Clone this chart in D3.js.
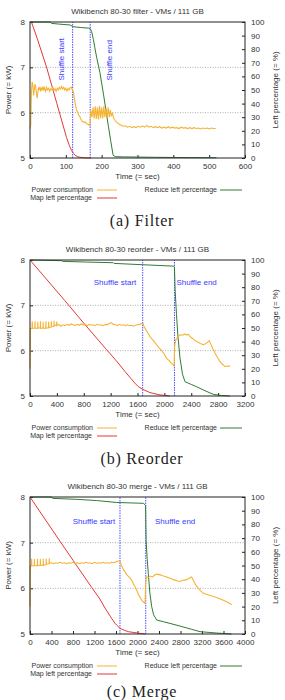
<!DOCTYPE html>
<html>
<head>
<meta charset="utf-8">
<script src="https://cdn.jsdelivr.net/npm/d3@7"></script>
<style>
  body { margin: 0; background: #fff; }
  svg text { font-family: "Liberation Sans", Arial, sans-serif; fill: #333; }
</style>
</head>
<body>
<div id="chart"></div>
<script>
// ---------------- data (time in sec, power in kW, left in %) ----------------
var filterPower = [[0,5.65],[2,5.72],[4,6.45],[6,6.68],[8,6.62],[10,6.38],[12,6.5],[14,6.63],[16,6.57],[18,6.42],[20,6.32],[22,6.46],[24,6.56],[26,6.5],[28,6.57],[30,6.47],[32,6.55],[34,6.49],[36,6.58],[38,6.51],[40,6.55],[43,6.47],[46,6.56],[49,6.5],[52,6.54],[55,6.47],[58,6.53],[61,6.5],[64,6.56],[67,6.49],[70,6.53],[73,6.47],[76,6.54],[79,6.5],[82,6.56],[85,6.52],[88,6.58],[91,6.52],[94,6.56],[97,6.5],[100,6.54],[103,6.48],[106,6.53],[109,6.5],[112,6.55],[115,6.56],[118,6.51],[121,6.45],[124,6.3],[127,6.16],[130,6.06],[133,6.01],[136,5.95],[139,5.91],[142,5.86],[145,5.82],[148,5.8],[151,5.78],[154,5.8],[157,5.76],[160,5.75],[163,5.74],[166,5.72],[168,5.8],[170,6.05],[173,5.9],[176,6.12],[179,5.87],[182,6.14],[185,5.86],[188,6.12],[191,5.85],[194,6.15],[197,5.88],[200,6.12],[203,5.87],[206,6.14],[209,5.9],[212,6.1],[215,5.88],[218,6.12],[221,5.9],[224,6.06],[227,5.92],[230,6.0],[233,5.88],[236,5.85],[240,5.8],[245,5.77],[250,5.74],[255,5.72],[260,5.7],[266,5.71],[272,5.68],[278,5.7],[284,5.67],[290,5.69],[296,5.67],[302,5.7],[308,5.68],[314,5.71],[320,5.68],[326,5.72],[332,5.68],[338,5.7],[344,5.67],[350,5.69],[356,5.67],[362,5.69],[368,5.66],[374,5.68],[380,5.66],[386,5.69],[392,5.66],[398,5.68],[404,5.66],[410,5.67],[416,5.65],[422,5.68],[428,5.66],[434,5.67],[440,5.65],[446,5.67],[452,5.65],[458,5.67],[464,5.65],[470,5.66],[476,5.64],[482,5.66],[488,5.65],[494,5.66],[500,5.64],[506,5.66],[512,5.65],[518,5.65]];
var filterMap = [[0,100],[4,100],[20,88],[46,67],[75,40],[102,15],[110,9],[116,5.5],[121,3.5],[126,2],[132,1],[140,0.5],[155,0.1],[170,0]];
var filterReduce = [[0,100],[56,100],[60,99],[79,98.5],[112,97.8],[121,96.5],[140,96],[163,95.5],[168,95.2],[172,93],[177,87],[181,81],[186,74],[195,63],[205,47],[212,35],[219,23],[225,13],[232,2],[238,1],[260,0.8],[300,0.7],[350,0.5],[400,0.4],[450,0.3],[520,0.2]];
var filterShuffle = [119, 168];

var reorderPower = [[0,5.6],[3,6.49],[30,6.49],[34,6.65],[36,6.49],[72,6.5],[75,6.65],[77,6.5],[113,6.49],[116,6.64],[118,6.5],[153,6.5],[156,6.65],[158,6.49],[193,6.5],[196,6.64],[198,6.5],[234,6.49],[237,6.65],[239,6.5],[275,6.5],[278,6.64],[280,6.51],[315,6.52],[318,6.65],[320,6.53],[355,6.54],[358,6.66],[360,6.55],[395,6.57],[398,6.64],[402,6.55],[430,6.58],[460,6.54],[490,6.57],[520,6.55],[550,6.58],[580,6.56],[610,6.59],[640,6.57],[670,6.55],[700,6.58],[730,6.56],[760,6.59],[790,6.57],[820,6.58],[850,6.55],[880,6.58],[910,6.56],[940,6.57],[970,6.55],[1000,6.58],[1030,6.56],[1060,6.57],[1090,6.55],[1120,6.58],[1150,6.57],[1180,6.6],[1210,6.62],[1240,6.58],[1270,6.57],[1300,6.55],[1330,6.58],[1360,6.56],[1390,6.57],[1420,6.55],[1450,6.57],[1480,6.55],[1510,6.56],[1540,6.54],[1570,6.56],[1600,6.57],[1630,6.58],[1660,6.6],[1680,6.6],[1700,6.52],[1730,6.45],[1760,6.38],[1786,6.31],[1820,6.25],[1850,6.2],[1885,6.13],[1920,6.06],[1960,6.0],[2000,5.92],[2034,5.83],[2070,5.78],[2100,5.73],[2133,5.68],[2145,5.66],[2153,6.1],[2170,6.24],[2200,6.3],[2232,6.35],[2270,6.34],[2300,6.37],[2330,6.35],[2356,6.36],[2390,6.3],[2420,6.27],[2450,6.23],[2480,6.2],[2510,6.18],[2545,6.15],[2579,6.13],[2610,6.15],[2640,6.18],[2668,6.22],[2690,6.15],[2720,6.05],[2753,5.95],[2790,5.85],[2827,5.76],[2865,5.7],[2902,5.65],[2940,5.66],[2976,5.66]];
var reorderMap = [[0,100],[521,70],[818,52.5],[1141,34],[1300,25],[1414,18],[1500,13],[1560,9.5],[1612,6.9],[1677,4.9],[1786,2.5],[1935,0.8],[2083,0]];
var reorderReduce = [[0,100],[471,99.5],[480,99],[843,98.5],[1240,98],[1250,97.5],[1686,96.5],[2133,95.5],[2150,95],[2160,78],[2180,60],[2200,45],[2232,28],[2270,16],[2307,10.5],[2400,8.5],[2480,6.8],[2604,3.9],[2728,1.2],[2850,0.4],[2976,0]];
var reorderShuffle = [1677, 2150];

var mergePower = [[0,5.6],[3,6.49],[28,6.49],[31,6.65],[33,6.49],[80,6.5],[83,6.64],[85,6.5],[135,6.49],[138,6.65],[140,6.5],[190,6.5],[193,6.64],[195,6.51],[245,6.5],[248,6.65],[250,6.51],[300,6.52],[303,6.65],[305,6.53],[355,6.54],[358,6.66],[362,6.55],[400,6.56],[440,6.54],[480,6.56],[520,6.55],[560,6.57],[600,6.55],[640,6.56],[680,6.54],[720,6.56],[760,6.55],[800,6.57],[840,6.55],[880,6.56],[920,6.54],[960,6.56],[1000,6.55],[1040,6.57],[1080,6.55],[1120,6.56],[1160,6.54],[1200,6.57],[1240,6.55],[1280,6.56],[1320,6.55],[1360,6.57],[1400,6.55],[1440,6.56],[1480,6.55],[1520,6.57],[1560,6.56],[1600,6.58],[1640,6.6],[1674,6.6],[1700,6.5],[1735,6.42],[1767,6.36],[1800,6.3],[1840,6.25],[1891,6.18],[1940,6.06],[1985,5.96],[2030,5.84],[2078,5.74],[2110,5.7],[2140,5.67],[2153,6.15],[2170,6.25],[2200,6.24],[2240,6.27],[2280,6.25],[2320,6.29],[2357,6.31],[2400,6.3],[2440,6.29],[2480,6.27],[2520,6.26],[2560,6.24],[2605,6.22],[2650,6.2],[2700,6.18],[2750,6.16],[2791,6.15],[2830,6.17],[2870,6.18],[2915,6.19],[2960,6.22],[3008,6.25],[3040,6.17],[3080,6.08],[3132,6.0],[3180,5.94],[3225,5.89],[3280,5.87],[3340,5.85],[3411,5.82],[3470,5.8],[3530,5.77],[3597,5.74],[3650,5.71],[3700,5.68],[3752,5.64]];
var mergeMap = [[0,100],[527,69.5],[806,53.5],[1147,34],[1300,25.5],[1395,19],[1500,12.5],[1581,7.8],[1674,4.1],[1750,2.8],[1829,1.7],[2016,0.6],[2140,0]];
var mergeReduce = [[0,100],[403,100],[420,99],[868,98.3],[1240,97.4],[1612,96],[2108,95.4],[2150,94],[2160,68],[2180,55],[2201,44],[2230,30],[2264,20],[2300,14],[2357,10.2],[2500,8.8],[2791,5.8],[3000,3.5],[3163,1.7],[3473,0.7],[3752,0]];
var mergeShuffle = [1674, 2153];

var powerTicks = [5, 6, 7, 8];
var pctTicks = d3.range(0, 101, 10);
var legendNames = ["Power consumption", "Map left percentage", "Reduce left percentage"];

// ---------------- drawing ----------------
var colors = {power: "#f5b335", map: "#e53935", reduce: "#2e7d32", shuffle: "#3a3aff"};
var W = 285, H = 700;
var svg = d3.select("#chart").append("svg").attr("width", W).attr("height", H);

function drawPanel(p) {
    var left = 30, right = 245;
    var x = d3.scaleLinear().domain([0, p.xMax]).range([left, right]);
    var yP = d3.scaleLinear().domain([5, 8]).range([p.bottom, p.top]);
    var yL = d3.scaleLinear().domain([0, 100]).range([p.bottom, p.top]);
    var g = svg.append("g");

    // title
    g.append("text").attr("x", (left + right) / 2).attr("y", p.top - 8)
        .attr("text-anchor", "middle").style("font-size", "8px").text(p.title);

    // grid
    g.selectAll("line.grid").data([6, 7]).enter().append("line")
        .attr("x1", left).attr("x2", right)
        .attr("y1", d => yP(d)).attr("y2", d => yP(d))
        .attr("stroke", "#999").attr("stroke-width", 0.8).attr("stroke-dasharray", "1,1.5");

    // axes
    var xa = g.append("g").attr("transform", "translate(0," + p.bottom + ")")
        .call(d3.axisBottom(x).tickValues(d3.range(0, p.xMax + 1, p.xStep)).tickFormat(d3.format("d"))
            .tickSizeInner(-3).tickSizeOuter(0).tickPadding(5));
    var ya = g.append("g").attr("transform", "translate(" + left + ",0)")
        .call(d3.axisLeft(yP).tickValues(powerTicks).tickFormat(d3.format("d")).tickSizeInner(-3).tickSizeOuter(0).tickPadding(5));
    var y2a = g.append("g").attr("transform", "translate(" + right + ",0)")
        .call(d3.axisRight(yL).tickValues(pctTicks).tickFormat(d3.format("d")).tickSizeInner(-3).tickSizeOuter(0).tickPadding(6));
    [xa, ya, y2a].forEach(function(a) {
        a.select(".domain").remove();
        a.selectAll("text").style("font-size", "8px").style("font-family", "Liberation Sans, Arial, sans-serif").attr("fill", "#333");
        a.selectAll("line").attr("stroke", "#222");
    });

    // axis labels
    g.append("text").attr("transform", "translate(11," + (p.top + p.bottom) / 2 + ") rotate(-90)")
        .attr("text-anchor", "middle").style("font-size", "8px").text("Power (= kW)");
    g.append("text").attr("transform", "translate(278," + (p.top + p.bottom) / 2 + ") rotate(-90)")
        .attr("text-anchor", "middle").style("font-size", "8px").text("Left percentage (= %)");
    g.append("text").attr("x", (left + right) / 2).attr("y", p.bottom + 21)
        .attr("text-anchor", "middle").style("font-size", "8px").text("Time (= sec)");

    // shuffle markers
    g.selectAll("line.shuffle").data(p.shuffle).enter().append("line")
        .attr("x1", d => x(d)).attr("x2", d => x(d))
        .attr("y1", p.bottom).attr("y2", p.top)
        .attr("stroke", colors.shuffle).attr("stroke-width", 0.9).attr("stroke-dasharray", "1.5,1");
    p.labels.forEach(function(l) {
        var t = g.append("text").style("font-size", "8px").style("fill", colors.shuffle).text(l.text);
        if (p.rotate) {
            t.attr("transform", "translate(" + x(l.t) + "," + yP(l.kw) + ") rotate(-90)").attr("dy", "0.35em");
        } else {
            t.attr("x", x(l.t)).attr("y", yP(l.kw)).attr("dy", "0.35em").attr("text-anchor", "middle");
        }
    });

    // series
    var lineP = d3.line().x(d => x(d[0])).y(d => yP(d[1]));
    var lineL = d3.line().x(d => x(d[0])).y(d => yL(d[1]));
    g.append("path").datum(p.map).attr("d", lineL).attr("fill", "none").attr("stroke", colors.map).attr("stroke-width", 1);
    g.append("path").datum(p.reduce).attr("d", lineL).attr("fill", "none").attr("stroke", colors.reduce).attr("stroke-width", 1);
    g.append("path").datum(p.power).attr("d", lineP).attr("fill", "none").attr("stroke", colors.power).attr("stroke-width", 1.1);

    // border
    g.append("rect").attr("x", left).attr("y", p.top).attr("width", right - left).attr("height", p.bottom - p.top)
        .attr("fill", "none").attr("stroke", "#222").attr("stroke-width", 1);

    // legend
    var items = [
        {name: legendNames[0], c: colors.power, tx: 93, lx: 97, lw: 20, y: p.bottom + 32},
        {name: legendNames[1], c: colors.map, tx: 92, lx: 97, lw: 20, y: p.bottom + 40},
        {name: legendNames[2], c: colors.reduce, tx: 217, lx: 220, lw: 22, y: p.bottom + 32}
    ];
    items.forEach(function(it) {
        g.append("text").attr("x", it.tx).attr("y", it.y).attr("dy", "0.35em").attr("text-anchor", "end")
            .style("font-size", "7px").text(it.name);
        g.append("line").attr("x1", it.lx).attr("x2", it.lx + it.lw).attr("y1", it.y).attr("y2", it.y)
            .attr("stroke", it.c).attr("stroke-width", 1);
    });

    // caption
    g.append("text").attr("x", 142).attr("y", p.bottom + p.capOffset).attr("dy", "0.35em")
        .attr("text-anchor", "middle")
        .style("font-family", "Liberation Serif, Times New Roman, serif")
        .style("font-size", "16px").style("letter-spacing", "0.8px").style("fill", "#222").text(p.caption);
}

drawPanel({title: "Wikibench 80-30 filter - VMs / 111 GB", caption: "(a) Filter", top: 22, bottom: 158, capOffset: 62,
    xMax: 600, xStep: 100, power: filterPower, map: filterMap, reduce: filterReduce, shuffle: filterShuffle,
    rotate: true, labels: [{text: "Shuffle start", t: 88, kw: 6.71}, {text: "Shuffle end", t: 222, kw: 6.71}]});
drawPanel({title: "Wikibench 80-30 reorder - VMs / 111 GB", caption: "(b) Reorder", top: 260, bottom: 396, capOffset: 62,
    xMax: 3200, xStep: 400, power: reorderPower, map: reorderMap, reduce: reorderReduce, shuffle: reorderShuffle,
    rotate: false, labels: [{text: "Shuffle start", t: 1265, kw: 7.52}, {text: "Shuffle end", t: 2480, kw: 7.52}]});
drawPanel({title: "Wikibench 80-30 merge - VMs / 111 GB", caption: "(c) Merge", top: 497, bottom: 634, capOffset: 57,
    xMax: 4000, xStep: 400, power: mergePower, map: mergeMap, reduce: mergeReduce, shuffle: mergeShuffle,
    rotate: false, labels: [{text: "Shuffle start", t: 1190, kw: 7.47}, {text: "Shuffle end", t: 2700, kw: 7.47}]});
</script>
</body>
</html>
